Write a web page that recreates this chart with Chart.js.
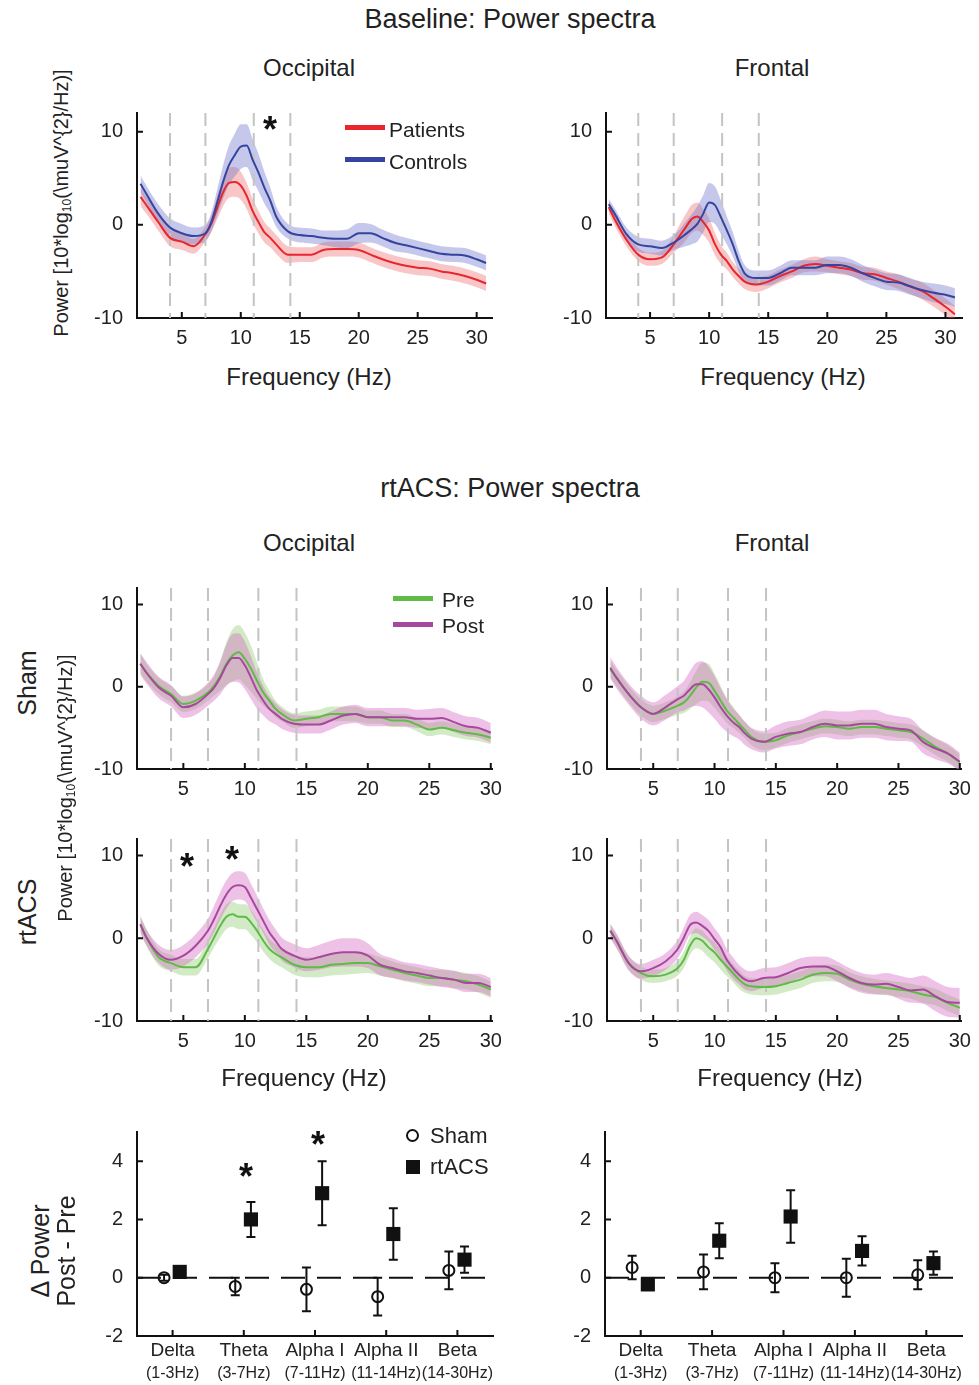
<!DOCTYPE html>
<html>
<head>
<meta charset="utf-8">
<script src="https://cdn.jsdelivr.net/npm/chart.js@4.4.1/dist/chart.umd.min.js"></script>
<style>
  body { margin: 0; background: #fff; width: 979px; height: 1385px; position: relative; overflow: hidden;
         font-family: "Liberation Sans", Arial, sans-serif; color: #222; }
  canvas { position: absolute; }
  .t { position: absolute; white-space: nowrap; transform: translate(-50%, -50%); line-height: 1; }
  .rot { transform: translate(-50%, -50%) rotate(-90deg); }
  .lt { position: absolute; white-space: nowrap; transform: translateY(-50%); line-height: 1; }
  .sw { position: absolute; height: 5px; width: 40px; }
  .star { position: absolute; transform: translate(-50%, -50%); font-size: 36px; font-weight: bold; line-height: 1; color: #111; }
  sub { font-size: 60%; vertical-align: -0.25em; }
</style>
</head>
<body>
<script>
"use strict";

// ---- data ----
const spectrumYTicks = [-10, 0, 10];
const freqTicks = [5, 10, 15, 20, 25, 30];
const bandEdges = [4, 7, 11.1, 14.2];

const freqBase = [1.5, 2, 3, 4, 5, 6, 7, 7.5, 8, 8.5, 9, 9.5, 10, 10.5, 11, 11.5, 12, 12.5, 13, 14, 15, 16, 17, 18, 19, 20, 21, 22, 23, 24, 25, 26, 27, 28, 29, 30, 30.8];
const freqStim = [1.5, 2, 3, 4, 5, 6, 7, 7.5, 8, 8.5, 9, 9.5, 10, 10.5, 11, 11.5, 12, 12.5, 13, 14, 15, 16, 17, 18, 19, 20, 21, 22, 23, 24, 25, 26, 27, 28, 29, 30];

// baseline occipital
const occPatients    = [3.0, 2.1, 0.3, -1.4, -1.8, -2.3, -1.0, 0.1, 1.8, 3.5, 4.5, 4.6, 4.2, 3.1, 1.5, 0.3, -0.8, -1.4, -2.1, -3.2, -3.2, -3.2, -2.7, -2.6, -2.6, -2.7, -3.2, -3.7, -4.1, -4.4, -4.6, -4.7, -5.0, -5.2, -5.5, -5.9, -6.3];
const occPatientsSem = [1.0, 0.9, 0.9, 0.9, 0.9, 0.8, 0.8, 0.9, 1.2, 1.5, 1.6, 1.6, 1.5, 1.4, 1.3, 1.2, 1.1, 1.0, 1.0, 0.9, 0.8, 0.8, 0.8, 0.8, 0.8, 0.8, 0.8, 0.8, 0.8, 0.8, 0.8, 0.8, 0.8, 0.8, 0.8, 0.8, 0.8];
const occControls    = [4.4, 3.3, 1.2, -0.3, -0.9, -1.2, -0.9, 0.3, 2.4, 4.6, 6.4, 7.5, 8.4, 8.5, 7.0, 5.6, 4.0, 2.6, 0.9, -0.7, -1.1, -1.2, -1.4, -1.5, -1.5, -0.9, -0.9, -1.4, -1.9, -2.2, -2.5, -2.8, -3.1, -3.2, -3.3, -3.7, -4.1];
const occControlsSem = [0.9, 0.9, 1.0, 1.0, 1.0, 0.9, 0.9, 1.0, 1.4, 1.8, 2.1, 2.3, 2.4, 2.3, 2.2, 2.0, 1.7, 1.4, 1.1, 0.8, 0.8, 0.8, 0.8, 0.9, 1.0, 1.1, 1.0, 0.9, 0.9, 0.8, 0.8, 0.8, 0.8, 0.8, 0.8, 0.8, 0.8];

// baseline frontal
const frPatients     = [1.9, 0.6, -1.6, -3.2, -3.7, -3.5, -2.1, -1.2, -0.3, 0.6, 0.9, 0.3, -0.6, -2.1, -3.2, -3.9, -4.8, -5.5, -6.1, -6.4, -6.1, -5.5, -5.0, -4.4, -4.2, -4.4, -4.6, -4.8, -5.2, -5.3, -5.7, -6.1, -6.6, -7.1, -7.9, -8.8, -9.6];
const frPatientsSem  = [0.7, 0.7, 0.7, 0.7, 0.7, 0.7, 0.9, 1.2, 1.4, 1.5, 1.5, 1.4, 1.3, 1.2, 1.0, 0.9, 0.8, 0.8, 0.8, 0.8, 0.7, 0.7, 0.7, 0.7, 0.8, 0.7, 0.7, 0.7, 0.7, 0.7, 0.7, 0.8, 0.8, 0.9, 0.9, 0.9, 0.9];
const frControls     = [2.2, 1.2, -1.0, -2.1, -2.3, -2.5, -1.9, -1.5, -1.0, -0.5, 0.1, 1.2, 2.4, 2.1, 0.8, -0.6, -2.1, -3.9, -5.2, -5.7, -5.7, -5.2, -4.6, -4.6, -4.6, -4.3, -4.3, -4.6, -5.2, -5.7, -6.1, -6.2, -6.6, -7.0, -7.3, -7.5, -7.8];
const frControlsSem  = [0.6, 0.6, 0.7, 0.8, 0.8, 0.8, 0.8, 1.0, 1.3, 1.6, 1.9, 2.0, 2.1, 2.0, 1.8, 1.5, 1.3, 1.1, 0.9, 0.8, 0.8, 0.8, 0.8, 0.8, 0.8, 0.9, 0.9, 0.9, 0.9, 0.9, 0.9, 0.9, 0.9, 0.9, 1.0, 1.0, 1.0];

// sham, occipital
const shamOccPre      = [2.8, 1.7, 0.1, -0.9, -2.1, -1.7, -0.7, 0.1, 1.3, 2.8, 3.8, 4.2, 3.4, 2.2, 0.7, -0.7, -1.7, -2.7, -3.3, -4.1, -3.9, -3.7, -3.3, -3.3, -3.3, -3.7, -3.7, -4.1, -4.1, -4.6, -5.2, -5.0, -5.3, -5.6, -5.8, -6.2];
const shamOccPreSem   = [1.2, 1.1, 1.0, 1.0, 1.0, 1.0, 1.0, 1.2, 1.8, 2.6, 3.2, 3.3, 3.2, 2.8, 2.2, 1.6, 1.2, 1.0, 0.9, 0.9, 0.9, 0.9, 0.9, 0.9, 0.9, 0.8, 0.8, 0.8, 0.8, 0.8, 0.8, 0.8, 0.8, 0.8, 0.8, 0.8];
const shamOccPost     = [2.8, 1.7, -0.1, -1.1, -2.5, -2.1, -0.9, -0.1, 1.1, 2.6, 3.5, 3.5, 2.6, 1.1, -0.5, -1.7, -2.7, -3.3, -3.9, -4.5, -4.6, -4.6, -4.1, -3.5, -3.3, -3.7, -3.7, -3.7, -3.7, -3.9, -3.9, -3.8, -4.3, -4.8, -5.0, -5.6];
const shamOccPostSem  = [1.3, 1.3, 1.3, 1.3, 1.3, 1.3, 1.4, 1.6, 2.0, 2.5, 2.9, 3.0, 2.9, 2.6, 2.2, 1.8, 1.5, 1.3, 1.2, 1.1, 1.1, 1.1, 1.1, 1.1, 1.1, 1.1, 1.1, 1.1, 1.1, 1.1, 1.2, 1.2, 1.2, 1.2, 1.2, 1.2];

// sham, frontal
const shamFrPre       = [2.1, 1.1, -0.9, -2.5, -3.3, -2.9, -2.3, -1.9, -1.1, -0.1, 0.6, 0.5, -0.5, -1.7, -2.9, -3.7, -4.5, -5.3, -6.1, -6.7, -6.5, -5.9, -5.5, -5.1, -4.8, -4.9, -5.1, -4.9, -4.9, -5.1, -5.3, -5.5, -6.3, -7.3, -8.1, -9.2];
const shamFrPreSem    = [1.0, 1.0, 1.0, 1.0, 1.0, 1.0, 1.1, 1.3, 1.6, 2.0, 2.3, 2.3, 2.1, 1.8, 1.5, 1.3, 1.1, 1.0, 1.0, 1.0, 0.9, 0.9, 0.9, 0.9, 0.9, 0.9, 0.9, 0.9, 0.9, 0.9, 0.9, 0.9, 1.0, 1.0, 1.0, 1.0];
const shamFrPost      = [2.3, 1.1, -0.9, -2.5, -3.3, -2.5, -1.5, -1.1, -0.3, 0.3, 0.3, -0.3, -1.3, -2.5, -3.5, -4.3, -4.9, -5.7, -6.3, -6.7, -6.1, -5.7, -5.5, -4.9, -4.5, -4.7, -4.7, -4.5, -4.5, -4.9, -5.1, -5.3, -6.7, -7.5, -8.1, -9.1];
const shamFrPostSem   = [1.3, 1.3, 1.3, 1.4, 1.4, 1.5, 1.6, 1.8, 2.2, 2.6, 2.8, 2.8, 2.6, 2.3, 2.0, 1.7, 1.5, 1.4, 1.3, 1.3, 1.4, 1.5, 1.5, 1.5, 1.6, 1.7, 1.7, 1.7, 1.7, 1.6, 1.5, 1.4, 1.4, 1.3, 1.2, 1.1];

// rtACS, occipital
const tacsOccPre      = [1.7, 0.1, -2.3, -3.0, -3.5, -3.5, -1.3, 0.1, 1.5, 2.6, 2.9, 2.6, 2.6, 1.9, 0.9, -0.3, -1.3, -1.9, -2.3, -3.2, -3.5, -3.5, -3.2, -3.1, -3.0, -3.0, -3.4, -3.8, -4.2, -4.5, -4.8, -4.8, -5.0, -5.2, -5.6, -6.2];
const tacsOccPreSem   = [1.0, 1.0, 1.0, 1.0, 1.0, 1.0, 1.1, 1.2, 1.4, 1.5, 1.5, 1.5, 1.5, 1.5, 1.4, 1.3, 1.2, 1.2, 1.2, 1.2, 1.2, 1.2, 1.3, 1.3, 1.3, 1.2, 1.1, 1.0, 1.0, 1.0, 1.0, 1.0, 1.0, 1.0, 1.0, 1.0];
const tacsOccPost     = [1.7, 0.1, -1.9, -2.6, -2.1, -0.9, 0.9, 2.3, 3.9, 5.3, 6.2, 6.4, 6.2, 4.9, 3.5, 2.1, 0.7, -0.3, -1.3, -2.1, -2.6, -2.3, -1.9, -1.7, -1.7, -2.1, -3.2, -3.6, -4.0, -4.2, -4.5, -4.8, -5.0, -5.4, -5.4, -5.9];
const tacsOccPostSem  = [1.0, 1.0, 1.1, 1.2, 1.3, 1.4, 1.5, 1.6, 1.7, 1.7, 1.7, 1.7, 1.7, 1.7, 1.6, 1.5, 1.5, 1.4, 1.4, 1.4, 1.4, 1.5, 1.6, 1.7, 1.7, 1.5, 1.3, 1.2, 1.1, 1.1, 1.1, 1.1, 1.1, 1.1, 1.1, 1.1];

// rtACS, frontal
const tacsFrPre       = [0.9, -0.3, -3.0, -4.2, -4.6, -4.4, -3.6, -2.6, -0.9, 0.0, -0.3, -1.1, -1.7, -2.6, -3.4, -4.2, -5.0, -5.6, -5.8, -5.9, -5.8, -5.4, -5.0, -4.4, -4.2, -4.3, -5.0, -5.5, -5.8, -6.0, -6.2, -6.4, -6.8, -7.1, -7.8, -8.4];
const tacsFrPreSem    = [0.8, 0.8, 0.8, 0.8, 0.8, 0.8, 0.9, 1.0, 1.1, 1.2, 1.2, 1.2, 1.2, 1.2, 1.2, 1.1, 1.1, 1.0, 1.0, 1.0, 1.0, 1.0, 1.0, 1.0, 1.0, 1.0, 0.9, 0.9, 0.9, 0.9, 0.9, 0.9, 1.0, 1.0, 1.0, 1.0];
const tacsFrPost      = [0.9, -0.3, -3.0, -4.0, -3.6, -2.8, -1.3, 0.1, 1.6, 1.9, 1.5, 0.9, -0.1, -1.1, -2.6, -3.6, -4.4, -5.0, -5.2, -4.8, -4.7, -4.2, -3.6, -3.4, -3.4, -4.0, -4.8, -5.4, -5.6, -5.5, -5.9, -6.3, -6.2, -7.0, -7.7, -7.8];
const tacsFrPostSem   = [0.9, 0.9, 0.9, 0.9, 1.0, 1.0, 1.1, 1.2, 1.2, 1.3, 1.3, 1.3, 1.3, 1.3, 1.3, 1.3, 1.2, 1.2, 1.2, 1.2, 1.2, 1.2, 1.2, 1.2, 1.2, 1.2, 1.2, 1.2, 1.2, 1.3, 1.4, 1.5, 1.7, 1.8, 1.8, 1.8];

// change in power, post - pre
const bandNames  = ['Delta', 'Theta', 'Alpha I', 'Alpha II', 'Beta'];
const bandRanges = ['(1-3Hz)', '(3-7Hz)', '(7-11Hz)', '(11-14Hz)', '(14-30Hz)'];
const deltaYTicks = [-2, 0, 2, 4];
const occShamChange = [0.0, -0.3, -0.4, -0.65, 0.25];
const occShamErr    = [0.1, 0.3, 0.75, 0.65, 0.65];
const occTacsChange = [0.2, 2.0, 2.9, 1.5, 0.62];
const occTacsErr    = [0.2, 0.6, 1.1, 0.88, 0.45];
const frShamChange  = [0.35, 0.2, 0.0, 0.0, 0.1];
const frShamErr     = [0.4, 0.6, 0.5, 0.65, 0.5];
const frTacsChange  = [-0.23, 1.27, 2.1, 0.92, 0.5];
const frTacsErr     = [0.1, 0.6, 0.9, 0.5, 0.4];

// ---- styles ----
const RED = '#e8262c', BLUE = '#3444a0', GREEN = '#5dbb46', MAGENTA = '#a8479e';
const RED_BAND = 'rgba(237,112,112,0.4)', BLUE_BAND = 'rgba(110,117,202,0.4)';
const GREEN_BAND = 'rgba(142,205,112,0.4)', PINK_BAND = 'rgba(212,102,192,0.4)';
const INK = '#111';
const shamShift = -0.12, tacsShift = 0.1;

Chart.defaults.font.family = '"Liberation Sans", Arial, sans-serif';
Chart.defaults.color = '#222';

// y tick labels ask for half a label + padding above the plot, so leave room for it
const PAD_T = 30, PAD_R = 20, AXIS_W = 60;

function makeCanvas(area, axisH) {
  const c = document.createElement('canvas');
  const left = area.l - AXIS_W, top = area.t - PAD_T;
  c.width = area.r + PAD_R - left;
  c.height = area.b + axisH - top;
  c.style.left = left + 'px';
  c.style.top = top + 'px';
  document.body.appendChild(c);
  return c;
}

const axisTicks = {
  id: 'axisTicks',
  afterDatasetsDraw(chart) {
    const {ctx, chartArea: a, scales} = chart;
    ctx.save();
    ctx.strokeStyle = INK;
    ctx.lineWidth = 2;
    ctx.beginPath();
    scales.x.ticks.forEach(t => {
      const p = scales.x.getPixelForValue(t.value);
      ctx.moveTo(p, a.bottom); ctx.lineTo(p, a.bottom - 6);
    });
    scales.y.ticks.forEach(t => {
      const p = scales.y.getPixelForValue(t.value);
      ctx.moveTo(a.left, p); ctx.lineTo(a.left + 6, p);
    });
    ctx.stroke();
    ctx.restore();
  }
};

const bandLines = {
  id: 'bandLines',
  beforeDatasetsDraw(chart) {
    const {ctx, chartArea: a, scales} = chart;
    ctx.save();
    ctx.strokeStyle = '#c4c4c4';
    ctx.lineWidth = 2;
    ctx.setLineDash([13, 7]);
    bandEdges.forEach(f => {
      const p = scales.x.getPixelForValue(f);
      ctx.beginPath(); ctx.moveTo(p, a.top); ctx.lineTo(p, a.bottom); ctx.stroke();
    });
    ctx.restore();
  }
};

function axisOpts(min, max, ticks, pad) {
  return {
    type: 'linear', min: min, max: max,
    grid: {display: false, drawTicks: false},
    border: {display: true, color: INK, width: 2},
    ticks: {font: {size: 20}, color: '#222', padding: pad, maxRotation: 0, autoSkip: false},
    afterBuildTicks: s => { s.ticks = ticks.map(v => ({value: v})); }
  };
}

function spectrumPanel(area, xMin, xMax, freqs, groups) {
  const canvas = makeCanvas(area, 44);
  const datasets = [];
  groups.forEach((g, k) => {
    const pts = vals => freqs.map((f, i) => ({x: f, y: vals[i]}));
    datasets.push({data: pts(g.mean.map((m, i) => m + g.sem[i])), borderWidth: 0, pointRadius: 0,
                   fill: '+1', backgroundColor: g.band, order: 10 + k * 2});
    datasets.push({data: pts(g.mean.map((m, i) => m - g.sem[i])), borderWidth: 0, pointRadius: 0,
                   fill: false, order: 11 + k * 2});
    datasets.push({data: pts(g.mean), borderColor: g.color, borderWidth: 2, pointRadius: 0,
                   fill: false, order: k});
  });
  const x = axisOpts(xMin, xMax, freqTicks, 8);
  x.afterFit = s => { s.height = 44; };
  const y = axisOpts(-10, 12, spectrumYTicks, 14);
  y.afterFit = s => { s.width = AXIS_W; };
  return new Chart(canvas, {
    type: 'line',
    data: {datasets: datasets},
    options: {
      responsive: false, animation: false, devicePixelRatio: 1,
      layout: {padding: {top: PAD_T, right: PAD_R, left: 0, bottom: 0}},
      elements: {line: {cubicInterpolationMode: 'monotone'}},
      plugins: {legend: {display: false}, tooltip: {enabled: false},
                filler: {drawTime: 'beforeDatasetsDraw', propagate: false}},
      scales: {x: x, y: y}
    },
    plugins: [bandLines, axisTicks]
  });
}

const errorBars = {
  id: 'errorBars',
  afterDatasetsDraw(chart) {
    const {ctx, scales} = chart;
    ctx.save();
    ctx.strokeStyle = INK;
    ctx.lineWidth = 2;
    chart.data.datasets.forEach((ds, di) => {
      const meta = chart.getDatasetMeta(di);
      ds.data.forEach((p, i) => {
        const px = meta.data[i].x;
        const top = scales.y.getPixelForValue(p.y + ds.errors[i]);
        const bot = scales.y.getPixelForValue(p.y - ds.errors[i]);
        ctx.beginPath();
        ctx.moveTo(px, top); ctx.lineTo(px, bot);
        ctx.moveTo(px - 4.5, top); ctx.lineTo(px + 4.5, top);
        ctx.moveTo(px - 4.5, bot); ctx.lineTo(px + 4.5, bot);
        ctx.stroke();
      });
    });
    ctx.restore();
  }
};

const zeroLine = {
  id: 'zeroLine',
  beforeDatasetsDraw(chart) {
    const {ctx, chartArea: a, scales} = chart;
    const y0 = scales.y.getPixelForValue(0);
    ctx.save();
    ctx.strokeStyle = INK;
    ctx.lineWidth = 2;
    ctx.setLineDash([24, 12]);
    ctx.beginPath(); ctx.moveTo(a.left, y0); ctx.lineTo(a.right, y0); ctx.stroke();
    ctx.restore();
  }
};

const rangeLabels = {
  id: 'rangeLabels',
  afterDraw(chart) {
    const {ctx, chartArea: a, scales} = chart;
    ctx.save();
    ctx.fillStyle = '#222';
    ctx.font = '16px "Liberation Sans", Arial, sans-serif';
    ctx.textAlign = 'center';
    ctx.textBaseline = 'middle';
    bandRanges.forEach((r, i) => ctx.fillText(r, scales.x.getPixelForValue(i + 1), a.bottom + 38));
    ctx.restore();
  }
};

function changePanel(area, sham, shamErr, tacs, tacsErr) {
  const canvas = makeCanvas(area, 54);
  const x = axisOpts(0.5, 5.5, bandNames.map((n, i) => i + 1), 3);
  x.ticks.font = {size: 19};
  x.ticks.callback = v => bandNames[v - 1];
  x.afterFit = s => { s.height = 54; };
  const y = axisOpts(-2, 5, deltaYTicks, 14);
  y.afterFit = s => { s.width = AXIS_W; };
  return new Chart(canvas, {
    type: 'scatter',
    data: {datasets: [
      {data: sham.map((v, i) => ({x: i + 1 + shamShift, y: v})), errors: shamErr,
       pointStyle: 'circle', pointRadius: 5.5, borderWidth: 2, borderColor: INK, backgroundColor: 'rgba(0,0,0,0)'},
      {data: tacs.map((v, i) => ({x: i + 1 + tacsShift, y: v})), errors: tacsErr,
       pointStyle: 'rect', pointRadius: 10, borderWidth: 0, borderColor: INK, backgroundColor: INK}
    ]},
    options: {
      responsive: false, animation: false, devicePixelRatio: 1,
      layout: {padding: {top: PAD_T, right: PAD_R, left: 0, bottom: 0}},
      plugins: {legend: {display: false}, tooltip: {enabled: false}},
      scales: {x: x, y: y}
    },
    plugins: [zeroLine, errorBars, axisTicks, rangeLabels]
  });
}

// ---- panels ----
spectrumPanel({l: 137, t: 113, r: 492, b: 318}, 1.2, 31.3, freqBase, [
  {mean: occControls, sem: occControlsSem, color: BLUE, band: BLUE_BAND},
  {mean: occPatients, sem: occPatientsSem, color: RED, band: RED_BAND}
]);
spectrumPanel({l: 606, t: 113, r: 962, b: 318}, 1.27, 31.4, freqBase, [
  {mean: frControls, sem: frControlsSem, color: BLUE, band: BLUE_BAND},
  {mean: frPatients, sem: frPatientsSem, color: RED, band: RED_BAND}
]);
spectrumPanel({l: 137, t: 588, r: 492, b: 769}, 1.23, 30.1, freqStim, [
  {mean: shamOccPost, sem: shamOccPostSem, color: MAGENTA, band: PINK_BAND},
  {mean: shamOccPre, sem: shamOccPreSem, color: GREEN, band: GREEN_BAND}
]);
spectrumPanel({l: 607, t: 588, r: 961, b: 769}, 1.23, 30.1, freqStim, [
  {mean: shamFrPost, sem: shamFrPostSem, color: MAGENTA, band: PINK_BAND},
  {mean: shamFrPre, sem: shamFrPreSem, color: GREEN, band: GREEN_BAND}
]);
spectrumPanel({l: 137, t: 839, r: 492, b: 1021}, 1.23, 30.1, freqStim, [
  {mean: tacsOccPost, sem: tacsOccPostSem, color: MAGENTA, band: PINK_BAND},
  {mean: tacsOccPre, sem: tacsOccPreSem, color: GREEN, band: GREEN_BAND}
]);
spectrumPanel({l: 607, t: 839, r: 961, b: 1021}, 1.23, 30.1, freqStim, [
  {mean: tacsFrPost, sem: tacsFrPostSem, color: MAGENTA, band: PINK_BAND},
  {mean: tacsFrPre, sem: tacsFrPreSem, color: GREEN, band: GREEN_BAND}
]);
changePanel({l: 137, t: 1132, r: 493, b: 1336}, occShamChange, occShamErr, occTacsChange, occTacsErr);
changePanel({l: 605, t: 1132, r: 962, b: 1336}, frShamChange, frShamErr, frTacsChange, frTacsErr);
</script>

<!-- titles and labels -->
<div class="t" style="left:510px; top:19px; font-size:27px;">Baseline: Power spectra</div>
<div class="t" style="left:309px; top:68px; font-size:24px;">Occipital</div>
<div class="t" style="left:772px; top:68px; font-size:24px;">Frontal</div>
<div class="t rot" style="left:62px; top:203px; font-size:20px;">Power [10*log<sub>10</sub>(\muV^{2}/Hz)]</div>
<div class="t" style="left:309px; top:377px; font-size:24px;">Frequency (Hz)</div>
<div class="t" style="left:783px; top:377px; font-size:24px;">Frequency (Hz)</div>

<div class="sw" style="left:345px; top:125px; background:#e8262c;"></div>
<div class="lt" style="left:389px; top:129px; font-size:21px;">Patients</div>
<div class="sw" style="left:345px; top:157px; background:#3444a0;"></div>
<div class="lt" style="left:389px; top:161px; font-size:21px;">Controls</div>
<div class="star" style="left:270px; top:130px;">*</div>

<div class="t" style="left:510px; top:488px; font-size:27px;">rtACS: Power spectra</div>
<div class="t" style="left:309px; top:543px; font-size:24px;">Occipital</div>
<div class="t" style="left:772px; top:543px; font-size:24px;">Frontal</div>
<div class="t rot" style="left:27px; top:683px; font-size:25px;">Sham</div>
<div class="t rot" style="left:27px; top:912px; font-size:25px;">rtACS</div>
<div class="t rot" style="left:66px; top:788px; font-size:20px;">Power [10*log<sub>10</sub>(\muV^{2}/Hz)]</div>

<div class="sw" style="left:393px; top:596px; background:#5dbb46;"></div>
<div class="lt" style="left:442px; top:599px; font-size:21px;">Pre</div>
<div class="sw" style="left:393px; top:622px; background:#a8479e;"></div>
<div class="lt" style="left:442px; top:625px; font-size:21px;">Post</div>
<div class="star" style="left:187px; top:867px;">*</div>
<div class="star" style="left:232px; top:860px;">*</div>
<div class="t" style="left:304px; top:1078px; font-size:24px;">Frequency (Hz)</div>
<div class="t" style="left:780px; top:1078px; font-size:24px;">Frequency (Hz)</div>

<div class="t rot" style="left:40px; top:1251px; font-size:25px;">&Delta; Power</div>
<div class="t rot" style="left:66px; top:1251px; font-size:25px;">Post - Pre</div>
<div style="position:absolute; left:406px; top:1129px; width:9px; height:9px; border:2px solid #111; border-radius:50%;"></div>
<div class="lt" style="left:430px; top:1136px; font-size:22px;">Sham</div>
<div style="position:absolute; left:406px; top:1160px; width:14px; height:14px; background:#111;"></div>
<div class="lt" style="left:430px; top:1167px; font-size:22px;">rtACS</div>
<div class="star" style="left:246px; top:1177px;">*</div>
<div class="star" style="left:318px; top:1145px;">*</div>
</body>
</html>
